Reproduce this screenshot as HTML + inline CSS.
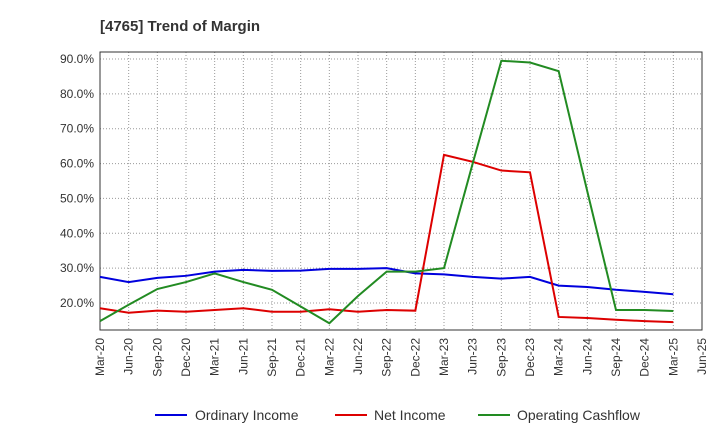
<!DOCTYPE html>
<html><head><meta charset="utf-8"><style>
body{margin:0;background:#fff;font-family:"Liberation Sans",sans-serif;}
</style></head><body>
<svg width="720" height="440" xmlns="http://www.w3.org/2000/svg">
<text x="100" y="31" font-size="15" font-weight="bold" fill="#333">[4765]  Trend of Margin</text>
<g id="grid"></g><g id="axes"></g><g id="series"></g>
<g font-size="14" fill="#333">
<line x1="155" y1="415" x2="187" y2="415" stroke="#0000dd" stroke-width="2"/><text x="195" y="420">Ordinary Income</text>
<line x1="335" y1="415" x2="367" y2="415" stroke="#dd0000" stroke-width="2"/><text x="374" y="420">Net Income</text>
<line x1="478" y1="415" x2="510" y2="415" stroke="#228b22" stroke-width="2"/><text x="517" y="420">Operating Cashflow</text>
</g>
</svg>
<script>
const categories=["Mar-20","Jun-20","Sep-20","Dec-20","Mar-21","Jun-21","Sep-21","Dec-21","Mar-22","Jun-22","Sep-22","Dec-22","Mar-23","Jun-23","Sep-23","Dec-23","Mar-24","Jun-24","Sep-24","Dec-24","Mar-25","Jun-25"];
const yTicks=[20,30,40,50,60,70,80,90];
const ordinaryIncome=[27.5,26,27.2,27.8,29,29.5,29.2,29.3,29.8,29.8,30,28.5,28.2,27.5,27,27.5,25,24.6,23.8,23.2,22.5];
const netIncome=[18.5,17.2,17.8,17.5,18,18.5,17.5,17.5,18.2,17.5,18,17.8,62.5,60.5,58,57.5,16,15.7,15.2,14.8,14.5];
const operatingCashflow=[14.8,19.5,24,26,28.5,26,23.8,19,14.2,22,29,29,30,60,89.5,89,86.5,52,18,18,17.7];
const NS="http://www.w3.org/2000/svg";
const L=100,R=702,T=52,B=330;
const xs=i=>L+i*(R-L)/(categories.length-1);
const ys=v=>303-(v-20)*((303-59)/70);
function mk(tag,attrs,parent){const e=document.createElementNS(NS,tag);for(const k in attrs)e.setAttribute(k,attrs[k]);parent.appendChild(e);return e;}
const grid=document.getElementById('grid'),axes=document.getElementById('axes'),ser=document.getElementById('series');
categories.forEach((c,i)=>{
 const g=mk('line',{x1:xs(i),x2:xs(i),y1:T,y2:B,stroke:'#999','stroke-dasharray':'1,2'},grid);
 
 
 const x=xs(i);
 const t=mk('text',{x:x+4,y:B+8,'font-size':12,fill:'#333','text-anchor':'end',transform:`rotate(-90 ${x+4} ${B+8})`},axes);
 t.textContent=c;
 
 
});
yTicks.forEach(v=>{
 const g=mk('line',{x1:L,x2:R,y1:ys(v),y2:ys(v),stroke:'#999','stroke-dasharray':'1,2'},grid);
 
 
 const t=mk('text',{x:L-6,y:ys(v)+4,'font-size':12,fill:'#333','text-anchor':'end'},axes);
 t.textContent=v.toFixed(1)+'%';
 
 
});
const fr=mk('rect',{x:L,y:T,width:R-L,height:B-T,fill:'none',stroke:'#333'},axes);


[[ordinaryIncome,'#0000dd','ordinary-income-line'],[netIncome,'#dd0000','net-income-line'],[operatingCashflow,'#228b22','operating-cashflow-line']].forEach(([d,col,n])=>{
 const p=mk('polyline',{points:d.map((v,i)=>xs(i)+','+ys(v)).join(' '),fill:'none',stroke:col,'stroke-width':2},ser);
 
 
});
</script>
</body></html>
